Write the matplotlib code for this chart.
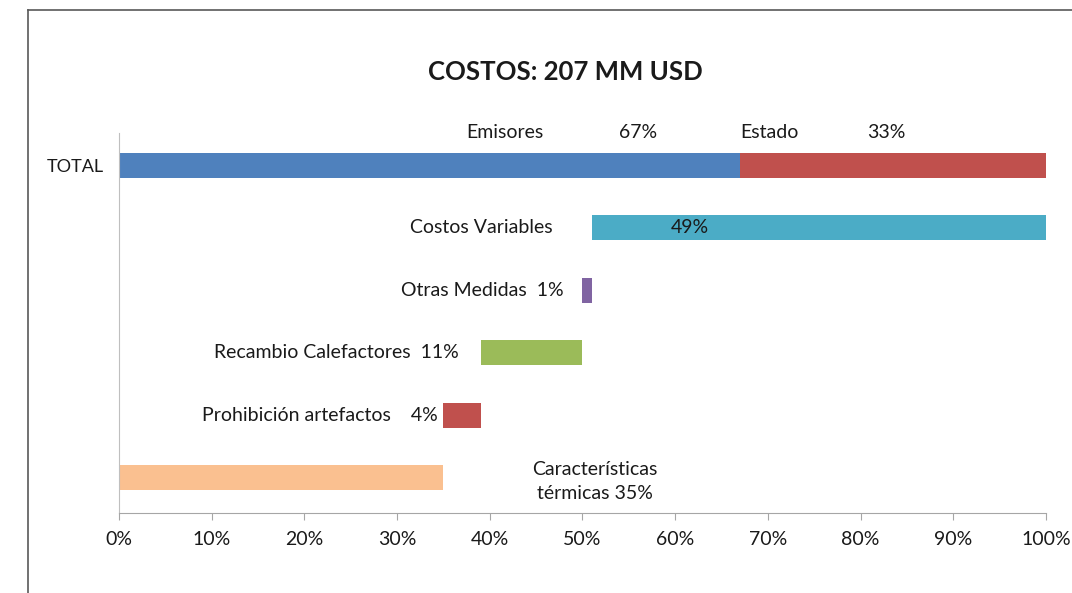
import matplotlib.pyplot as plt
import numpy as np
from matplotlib.lines import Line2D

# data (percent of total cost)
total_parts = ["Emisores", "Estado"]
total_values = [67, 33]

steps = ["Características térmicas", "Prohibición artefactos",
         "Recambio Calefactores", "Otras Medidas", "Costos Variables"]
step_values = [35, 4, 11, 1, 49]
step_colors = ["#FAC090", "#C0504D", "#9BBB59", "#8064A2", "#4BACC6"]
total_colors = ["#4F81BD", "#C0504D"]

xticks = np.arange(0, 101, 10)
xtick_labels = [f"{v}%" for v in xticks]

plt.rcParams['font.family'] = ['Lato', 'DejaVu Sans']
TXT = '#1a1a1a'
fs = 14

fig = plt.figure(figsize=(10.72, 5.93), dpi=100)
ax = fig.add_axes([0.111, 0.135, 0.8647, 0.641])

# waterfall rows, bottom to top
starts = np.concatenate([[0], np.cumsum(step_values)[:-1]])
ypos = np.arange(len(steps))
ax.barh(ypos, step_values, left=starts, height=0.4, color=step_colors)

# total row on top, stacked
y_total = len(steps)
left = 0
for v, c in zip(total_values, total_colors):
    ax.barh(y_total, v, left=left, height=0.4, color=c)
    left += v

ax.set_xlim(0, 100)
ax.set_ylim(-0.56, y_total + 0.52)
ax.set_xticks(xticks)
ax.set_xticklabels(xtick_labels, fontsize=fs, color=TXT)
ax.set_yticks([y_total])
ax.set_yticklabels(["TOTAL"], fontsize=fs - 1, color=TXT)
ax.tick_params(axis='y', length=0, pad=11)
ax.tick_params(axis='x', length=5, color='#A6A6A6', pad=8)
for s in ['top', 'right']:
    ax.spines[s].set_visible(False)
ax.spines['left'].set_color('#BFBFBF')
ax.spines['bottom'].set_color('#A6A6A6')

# labels
ax.text(41.6, y_total + 0.52, total_parts[0], ha='center', va='center', fontsize=fs, color=TXT)
ax.text(56, y_total + 0.52, f"{total_values[0]}%", ha='center', va='center', fontsize=fs, color=TXT)
ax.text(70.2, y_total + 0.52, total_parts[1], ha='center', va='center', fontsize=fs, color=TXT)
ax.text(82.8, y_total + 0.52, f"{total_values[1]}%", ha='center', va='center', fontsize=fs, color=TXT)

ax.text(46.8, ypos[4], steps[4], ha='right', va='center', fontsize=fs, color=TXT)
ax.text(61.6, ypos[4], f"{step_values[4]}%", ha='center', va='center', fontsize=fs, color=TXT)
ax.text(48.0, ypos[3], f"{steps[3]}  {step_values[3]}%", ha='right', va='center', fontsize=fs, color=TXT)
ax.text(36.6, ypos[2], f"{steps[2]}  {step_values[2]}%", ha='right', va='center', fontsize=fs, color=TXT)
ax.text(34.4, ypos[1], f"{steps[1]}    {step_values[1]}%", ha='right', va='center', fontsize=fs, color=TXT)
ax.text(51.3, ypos[0] - 0.05, "Características\ntérmicas " + f"{step_values[0]}%",
        ha='center', va='center', fontsize=fs, color=TXT, linespacing=1.5)

fig.text(0.527, 0.878, "COSTOS: 207 MM USD", ha='center', va='center',
         fontsize=18.5, fontweight='bold', color=TXT)

# outer chart frame (cut at right and bottom)
fig.add_artist(Line2D([28 / 1072, 1], [1 - 10 / 593] * 2, color='#595959', lw=1.2))
fig.add_artist(Line2D([28 / 1072] * 2, [0, 1 - 10 / 593], color='#595959', lw=1.2))

fig.savefig("out.png", dpi=100)
